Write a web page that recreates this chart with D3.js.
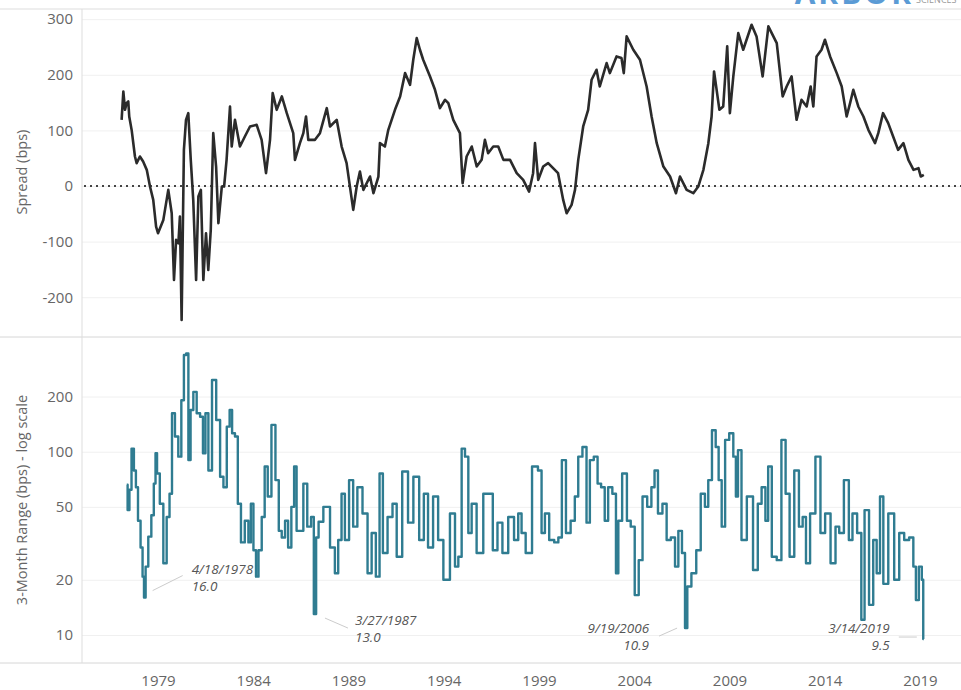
<!DOCTYPE html>
<html>
<head>
<meta charset="utf-8">
<script src="https://cdn.jsdelivr.net/npm/d3@7"></script>
<style>
  body { margin: 0; background: #fff; }
  svg { display: block; font-family: "Open Sans", "Noto Sans", sans-serif; }
</style>
</head>
<body>
<script>
// spread (bps): decimal year, value
const spreadYears = [1977.09,1977.18,1977.27,1977.35,1977.44,1977.49,1977.62,1977.79,1977.88,1978.05,1978.22,1978.41,1978.58,1978.75,1978.90,1979.00,1979.28,1979.54,1979.72,1979.84,1979.95,1980.07,1980.15,1980.24,1980.36,1980.47,1980.59,1980.72,1980.85,1981.00,1981.12,1981.25,1981.38,1981.52,1981.64,1981.77,1981.90,1982.05,1982.17,1982.35,1982.47,1982.60,1982.78,1982.87,1983.04,1983.30,1983.56,1983.83,1984.18,1984.44,1984.67,1984.88,1985.02,1985.23,1985.50,1985.76,1986.10,1986.19,1986.45,1986.63,1986.77,1986.89,1987.24,1987.50,1987.86,1988.03,1988.38,1988.64,1988.90,1989.25,1989.43,1989.60,1989.78,1990.13,1990.31,1990.57,1990.65,1990.91,1991.09,1991.44,1991.71,1991.97,1992.23,1992.40,1992.58,1992.75,1992.92,1993.28,1993.54,1993.80,1994.07,1994.24,1994.50,1994.85,1994.99,1995.20,1995.47,1995.73,1995.99,1996.16,1996.33,1996.60,1996.86,1997.13,1997.48,1997.83,1998.17,1998.48,1998.69,1998.79,1998.96,1999.22,1999.48,1999.74,2000.00,2000.27,2000.45,2000.71,2000.89,2001.06,2001.32,2001.58,2001.76,2002.02,2002.19,2002.55,2002.72,2003.07,2003.33,2003.45,2003.60,2003.95,2004.30,2004.65,2004.91,2005.18,2005.53,2005.88,2006.19,2006.40,2006.75,2007.10,2007.36,2007.63,2007.89,2008.06,2008.19,2008.47,2008.67,2008.88,2009.02,2009.20,2009.46,2009.72,2010.16,2010.42,2010.74,2011.04,2011.48,2011.79,2012.00,2012.26,2012.52,2012.78,2013.05,2013.26,2013.40,2013.57,2013.83,2014.01,2014.28,2014.63,2014.89,2015.15,2015.33,2015.50,2015.76,2016.03,2016.29,2016.64,2016.81,2017.06,2017.33,2017.59,2017.85,2018.13,2018.39,2018.66,2018.92,2019.04,2019.20];
const spreadBps = [119,170,137,149,152,125,100,53,41,53,44,29,-1,-25,-73,-85,-61,-7,-49,-169,-97,-103,-55,-241,65,119,131,47,-25,-169,-19,-7,-169,-85,-151,-79,95,35,-67,-1,-1,47,143,71,119,71,89,107,110,83,23,83,167,137,161,131,95,47,77,95,125,83,83,95,140,107,119,71,41,-43,-1,26,-7,17,-13,17,77,71,101,137,161,203,182,227,266,245,227,197,173,140,155,149,119,95,5,53,71,35,47,83,59,71,71,47,47,23,11,-10,23,77,11,35,41,32,23,-25,-49,-34,-7,47,107,137,191,209,179,221,203,233,230,203,269,245,227,179,125,77,35,17,-13,17,-7,-13,-1,29,77,125,206,137,143,251,131,197,275,245,290,269,197,287,257,161,179,197,119,155,143,179,143,233,245,263,233,203,179,125,149,173,143,125,101,77,95,131,113,89,65,77,47,29,32,17,20];

// 3-month range (bps), log scale
const rangeYears = [1977.36,1977.45,1977.55,1977.67,1977.80,1977.88,1978.02,1978.15,1978.23,1978.30,1978.40,1978.58,1978.72,1978.84,1978.90,1979.00,1979.19,1979.37,1979.54,1979.67,1979.80,1979.98,1980.15,1980.30,1980.42,1980.54,1980.65,1980.77,1980.94,1981.12,1981.30,1981.42,1981.56,1981.73,1981.94,1982.17,1982.35,1982.52,1982.70,1982.82,1982.96,1983.12,1983.26,1983.45,1983.66,1983.83,1983.92,1984.10,1984.19,1984.36,1984.53,1984.67,1984.85,1985.06,1985.27,1985.41,1985.58,1985.76,1985.90,1986.10,1986.19,1986.36,1986.54,1986.72,1986.95,1987.12,1987.24,1987.36,1987.50,1987.86,1988.20,1988.37,1988.55,1988.72,1988.90,1989.16,1989.33,1989.60,1989.87,1990.13,1990.30,1990.57,1990.69,1990.92,1991.18,1991.44,1991.62,1992.02,1992.23,1992.58,1992.84,1993.07,1993.28,1993.60,1993.81,1994.15,1994.50,1994.68,1994.85,1995.03,1995.20,1995.38,1995.55,1995.90,1996.25,1996.46,1996.69,1996.95,1997.21,1997.56,1997.82,1998.00,1998.17,1998.43,1998.84,1999.05,1999.22,1999.40,1999.67,1999.93,2000.10,2000.30,2000.53,2000.79,2000.97,2001.15,2001.41,2001.58,2001.76,2001.99,2002.16,2002.36,2002.54,2002.72,2002.98,2003.10,2003.23,2003.50,2003.73,2003.90,2004.15,2004.32,2004.55,2004.81,2004.99,2005.14,2005.35,2005.61,2005.79,2006.05,2006.23,2006.40,2006.61,2006.72,2006.85,2007.15,2007.36,2007.62,2007.80,2007.97,2008.19,2008.36,2008.50,2008.68,2008.86,2009.11,2009.29,2009.38,2009.51,2009.75,2010.07,2010.40,2010.57,2010.80,2010.97,2011.09,2011.35,2011.61,2011.84,2012.05,2012.26,2012.54,2012.75,2012.93,2013.10,2013.36,2013.66,2013.89,2014.15,2014.46,2014.67,2014.85,2015.16,2015.37,2015.54,2015.86,2015.98,2016.20,2016.45,2016.64,2016.81,2016.99,2017.16,2017.51,2017.78,2018.04,2018.30,2018.56,2018.74,2018.83,2019.05,2019.14,2019.20];
const rangeBps = [66,48,62,104,79,64,42,30,20.8,16.0,23.6,34.4,45,67,98,76,52,24.6,44,59,162,121,94,191,337,344,90,169,212,162,155,98,162,79,246,149,73,64,137,169,126,121,52,32,42,32,52,29,20.8,29,44,83,57,140,70,37,34,42,30,50,83,37,37,67,39,44,13.0,34,41.5,50,30,21.7,33,59,33,70,39,64,46,21.7,36,20.8,76,28,44,52,26.7,78,41,73,33,59,30,57,33,20,46,23.6,26.7,104,94,36,52,28,59,59,29,41,28,44,33,46,36,28,83,79,36,46,33,32,34,90,36,42,57,94,106,41,90,94,67,64,42,64,59,21.7,42,76,42,39,16.5,25.6,57,50,64,79,46,52,33,34,23.6,37,28,10.9,18.4,21.7,29,59,50,70,131,106,70,39,116,126,94,57,102,33,57,22.6,52,64,42,83,26.7,25.6,116,59,26.7,79,39,44,24.6,46,94,36,46,24.6,39,36,70,33,46,36,12.1,48,14.6,33,21.7,57,19,46,20,36,33,34,23.6,15.5,23.6,20,9.5];

const spreadTicks = [300, 200, 100, 0, -100, -200];
const rangeTicks = [200, 100, 50, 20, 10];
const yearTicks = [1979, 1984, 1989, 1994, 1999, 2004, 2009, 2014, 2019];

const noteYears = [1978.30, 1987.24, 2006.72, 2019.20];
const noteValues = [16.0, 13.0, 10.9, 9.5];
const noteDates = ["4/18/1978", "3/27/1987", "9/19/2006", "3/14/2019"];

const WIDTH = 961;
const HEIGHT = 690;
const LEFT = 82;
const TOP = 9;
const MID = 337;
const BOTTOM = 663;

const svg = d3.select("body").append("svg")
  .attr("width", WIDTH)
  .attr("height", HEIGHT);

const xScale = d3.scaleLinear().domain([1979, 2019]).range([158, 920]);
const ySpread = d3.scaleLinear().domain([-271.6, 318.3]).range([MID, TOP]);
const yRange = d3.scaleLog().domain([7.03, 422.6]).range([BOTTOM, MID]);

svg.append("clipPath").attr("id", "plot-clip")
  .append("rect").attr("x", LEFT).attr("y", TOP).attr("width", WIDTH - LEFT).attr("height", BOTTOM - TOP);

// gridlines
svg.append("g")
  .attr("transform", "translate(" + LEFT + ",0)")
  .call(d3.axisLeft(ySpread).tickValues(spreadTicks).tickSize(-(WIDTH - LEFT)).tickFormat(""))
  .call(g => g.select(".domain").remove())
  .call(g => g.selectAll("line").attr("stroke", "#f0f0f0"));

svg.append("g")
  .attr("transform", "translate(" + LEFT + ",0)")
  .call(d3.axisLeft(yRange).tickValues(rangeTicks).tickSize(-(WIDTH - LEFT)).tickFormat(""))
  .call(g => g.select(".domain").remove())
  .call(g => g.selectAll("line").attr("stroke", "#f0f0f0"));

// frame lines
svg.append("line").attr("x1", 0).attr("x2", WIDTH).attr("y1", TOP).attr("y2", TOP).attr("stroke", "#ddd");
svg.append("line").attr("x1", 0).attr("x2", WIDTH).attr("y1", MID).attr("y2", MID).attr("stroke", "#d6d6d6");
svg.append("line").attr("x1", 0).attr("x2", WIDTH).attr("y1", BOTTOM).attr("y2", BOTTOM).attr("stroke", "#d6d6d6");
svg.append("line").attr("x1", LEFT).attr("x2", LEFT).attr("y1", TOP).attr("y2", BOTTOM).attr("stroke", "#ddd");

// y tick labels (plain hyphen for negatives, as in the original)
svg.append("g")
  .attr("transform", "translate(" + LEFT + ",0)")
  .call(d3.axisLeft(ySpread).tickValues(spreadTicks).tickSize(0).tickPadding(9).tickFormat(d => String(d)))
  .call(g => g.select(".domain").remove())
  .call(g => g.selectAll("text").attr("fill", "#666").style("font-size", "15px").style("font-family", "'Open Sans', sans-serif"));

svg.append("g")
  .attr("transform", "translate(" + LEFT + ",0)")
  .call(d3.axisLeft(yRange).tickValues(rangeTicks).tickSize(0).tickPadding(9).tickFormat(d3.format("d")))
  .call(g => g.select(".domain").remove())
  .call(g => g.selectAll("text").attr("fill", "#666").style("font-size", "15px").style("font-family", "'Open Sans', sans-serif"));

// x axis labels
svg.append("g")
  .attr("transform", "translate(0," + BOTTOM + ")")
  .call(d3.axisBottom(xScale).tickValues(yearTicks).tickSize(0).tickPadding(12).tickFormat(d3.format("d")))
  .call(g => g.select(".domain").remove())
  .call(g => g.selectAll("text").attr("fill", "#666").style("font-size", "15px").style("font-family", "'Open Sans', sans-serif"));

// axis titles
svg.append("text")
  .attr("transform", "translate(27," + ySpread(25) + ") rotate(-90)")
  .attr("text-anchor", "middle")
  .attr("fill", "#666")
  .style("font-size", "14.5px")
  .text("Spread (bps)");

svg.append("text")
  .attr("transform", "translate(27," + ((MID + BOTTOM) / 2) + ") rotate(-90)")
  .attr("text-anchor", "middle")
  .attr("fill", "#666")
  .style("font-size", "14.5px")
  .text("3-Month Range (bps) - log scale");

// zero line
svg.append("line")
  .attr("x1", LEFT + 2).attr("x2", WIDTH)
  .attr("y1", ySpread(0)).attr("y2", ySpread(0))
  .attr("stroke", "#444").attr("stroke-width", 2)
  .attr("stroke-dasharray", "2,4");

const plot = svg.append("g").attr("clip-path", "url(#plot-clip)");

const spreadLine = d3.line()
  .x((d, i) => xScale(spreadYears[i]))
  .y(d => ySpread(d));

plot.append("path")
  .datum(spreadBps)
  .attr("d", spreadLine)
  .attr("fill", "none")
  .attr("stroke", "#2b2b2b")
  .attr("stroke-width", 2.6)
  .attr("stroke-linejoin", "round");

const rangeLine = d3.line()
  .x((d, i) => xScale(rangeYears[i]))
  .y(d => yRange(d))
  .curve(d3.curveStep);

plot.append("path")
  .datum(rangeBps)
  .attr("d", rangeLine)
  .attr("fill", "none")
  .attr("stroke", "#2f7c91")
  .attr("stroke-width", 2.4)
  .attr("stroke-linejoin", "round");

// annotations: text offset and leader line relative to the marked low
const noteText = [[47, -24, "start"], [40, 11, "start"], [-37, 5, "end"], [-34, -6, "end"]];
const noteLead = [[8, -7, 38, -22], [10, 4, 33, 14], [-27, 8, -9, 0], [-25, -2, -7, -2]];

noteDates.forEach((label, i) => {
  const ax = xScale(noteYears[i]);
  const ay = yRange(noteValues[i]);
  const l = noteLead[i];
  svg.append("line")
    .attr("x1", ax + l[0]).attr("y1", ay + l[1])
    .attr("x2", ax + l[2]).attr("y2", ay + l[3])
    .attr("stroke", "#ccc").attr("stroke-width", 1);
  const t = svg.append("text")
    .attr("x", ax + noteText[i][0])
    .attr("y", ay + noteText[i][1])
    .attr("text-anchor", noteText[i][2])
    .attr("fill", "#555")
    .style("font-size", "13.5px")
    .style("font-style", "italic");
  t.append("tspan").attr("x", ax + noteText[i][0]).text(label);
  t.append("tspan").attr("x", ax + noteText[i][0]).attr("dy", 17).text(noteValues[i].toFixed(1));
});

// logo, cut at the top edge like the original
svg.append("text")
  .attr("x", 914).attr("y", 4)
  .attr("text-anchor", "end")
  .attr("fill", "#5b9bd5")
  .style("font-size", "30px")
  .style("font-weight", "bold")
  .style("letter-spacing", "3px")
  .text("ARBOR");
svg.append("text")
  .attr("x", 916).attr("y", 3)
  .attr("fill", "#999")
  .style("font-size", "9px")
  .text("SCIENCES");
</script>
</body>
</html>
